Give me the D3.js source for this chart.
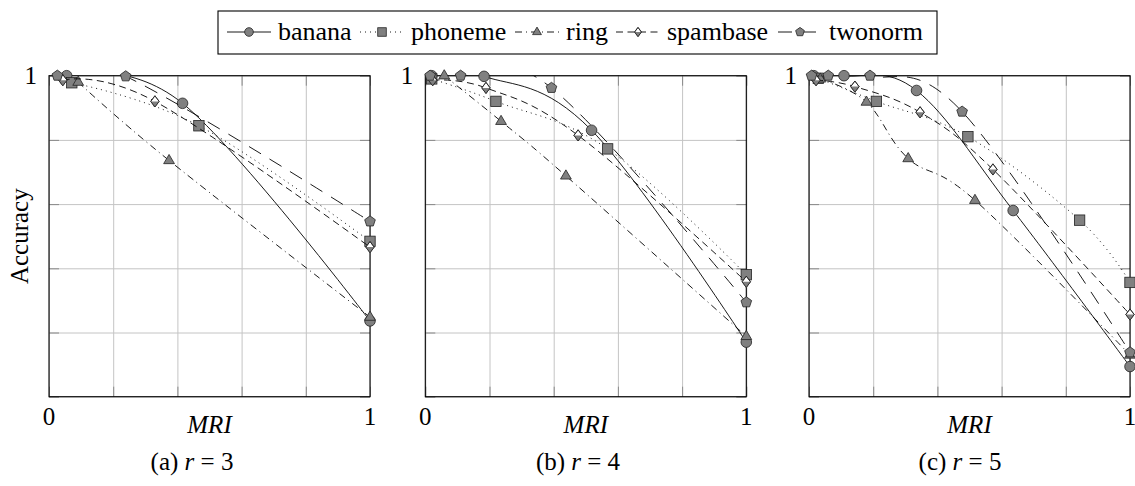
<!DOCTYPE html>
<html>
<head>
<meta charset="utf-8">
<script src="https://cdn.jsdelivr.net/npm/d3@7"></script>
<style>
  body { margin: 0; background: #fff; }
</style>
</head>
<body>
<svg id="chart" width="1135" height="486"></svg>
<script>
const datasets = ["banana", "phoneme", "ring", "spambase", "twonorm"]
const panelTags = ["(a)", "(b)", "(c)"]
const rValues = ["3", "4", "5"]
const xTickLabels = ["0", "1"]
const yTickLabels = ["1"]
const xLabel = "MRI"
const yLabel = "Accuracy"

// r = 3  ([MRI, accuracy])
const banana3 = [[0.055, 1], [0.416, 0.957], [1, 0.618]]
const phoneme3 = [[0.071, 0.989], [0.467, 0.922], [1, 0.742]]
const ring3 = [[0.091, 0.990], [0.374, 0.868], [1, 0.624]]
const spambase3 = [[0.043, 0.993], [0.330, 0.960], [1, 0.733]]
const twonorm3 = [[0.026, 1], [0.239, 0.999], [1, 0.773]]

// r = 4
const banana4 = [[0.02, 1], [0.183, 0.999], [0.518, 0.915], [1, 0.585]]
const phoneme4 = [[0.02, 0.995], [0.220, 0.960], [0.568, 0.886], [1, 0.690]]
const ring4 = [[0.059, 1], [0.236, 0.929], [0.438, 0.844], [1, 0.594]]
const spambase4 = [[0.023, 0.993], [0.189, 0.981], [0.476, 0.907], [1, 0.679]]
const twonorm4 = [[0.015, 1], [0.11, 1], [0.393, 0.981], [1, 0.647]]

// r = 5
const banana5 = [[0.015, 1], [0.109, 1], [0.335, 0.977], [0.636, 0.790], [1, 0.547]]
const phoneme5 = [[0.029, 0.996], [0.210, 0.960], [0.495, 0.905], [0.843, 0.775], [1, 0.678]]
const ring5 = [[0.035, 0.995], [0.179, 0.959], [0.309, 0.871], [0.517, 0.806], [1, 0.565]]
const spambase5 = [[0.022, 0.993], [0.143, 0.983], [0.346, 0.943], [0.573, 0.854], [1, 0.628]]
const twonorm5 = [[0.008, 1], [0.06, 1], [0.19, 1], [0.477, 0.944], [1, 0.569]]

const panelData = [
  [banana3, phoneme3, ring3, spambase3, twonorm3],
  [banana4, phoneme4, ring4, spambase4, twonorm4],
  [banana5, phoneme5, ring5, spambase5, twonorm5]
]

const dashes = ["none", "1,4", "7,4,1,4", "7,4.5", "14,10"]

let
  panelLefts = [49, 425.3, 809],
  captionX = [192, 578, 960],
  plotTop = 75.7,
  size = 321,
  fontSize = 25,
  serif = '"Liberation Serif", "Times New Roman", Times, "DejaVu Serif", serif'

var svg = d3.select("#chart")

function label(parent, x, y, str, size) {
  return parent.append("text").attr("x", x).attr("y", y)
    .style("font-family", serif).style("font-size", size + "px")
    .attr("fill", "#000").text(str)
}

function marker(g, kind, s) {
  var grey = "#808080"
  var m = g.append("g")
  if (kind == "banana") {
    m.append("circle").attr("r", 5.3 * s).attr("fill", grey)
  } else if (kind == "phoneme") {
    m.append("rect").attr("x", -5.2 * s).attr("y", -5.2 * s)
      .attr("width", 10.4 * s).attr("height", 10.4 * s).attr("fill", grey)
  } else if (kind == "ring") {
    m.append("path").attr("d", `M0,${-6 * s}L${5.4 * s},${3.2 * s}L${-5.4 * s},${3.2 * s}Z`).attr("fill", grey)
  } else if (kind == "spambase") {
    m.append("path").attr("d", `M0,${-5.6 * s}L${4.2 * s},0L0,${5.6 * s}L${-4.2 * s},0Z`).attr("fill", "#fff")
    m.append("path").attr("d", `M${-4.2 * s},0L${4.2 * s},0L0,${5.6 * s}Z`).attr("fill", grey).attr("stroke", "none")
    m.append("path").attr("d", `M0,${-5.6 * s}L${4.2 * s},0L0,${5.6 * s}L${-4.2 * s},0Z`).attr("fill", "none")
  } else {
    var pts = d3.range(5).map(i => {
      var a = -Math.PI / 2 + i * 2 * Math.PI / 5
      return [5.6 * s * Math.cos(a), 5.6 * s * Math.sin(a)]
    })
    m.append("path").attr("d", "M" + pts.join("L") + "Z").attr("fill", grey)
  }
  m.selectAll("*").filter(function() { return this.getAttribute("stroke") != "none" })
    .attr("stroke", "#222").attr("stroke-width", 0.8)
  return m
}

panelData.forEach((series, p) => {
  var left = panelLefts[p]
  var x = d3.scaleLinear().domain([0, 1]).range([left, left + size])
  var y = d3.scaleLinear().domain([0.5, 1]).range([plotTop + size, plotTop])
  var g = svg.append("g")

  g.append("clipPath").attr("id", "clip" + p)
    .append("rect").attr("x", left).attr("y", plotTop).attr("width", size).attr("height", size)

  var xGrid = d3.range(0, 1.0001, 0.2)
  var yGrid = d3.range(0.5, 1.0001, 0.1)

  g.append("g").attr("transform", `translate(0,${plotTop + size})`)
    .call(d3.axisBottom(x).tickValues(xGrid).tickSize(-size).tickFormat(""))
    .call(a => a.select(".domain").remove())
    .call(a => a.selectAll("line").attr("stroke", "#c4c4c4").attr("stroke-width", 1))
  g.append("g").attr("transform", `translate(${left},0)`)
    .call(d3.axisLeft(y).tickValues(yGrid).tickSize(-size).tickFormat(""))
    .call(a => a.select(".domain").remove())
    .call(a => a.selectAll("line").attr("stroke", "#c4c4c4").attr("stroke-width", 1))

  // short inner ticks on all four sides
  var tickAxes = [
    [d3.axisBottom(x).tickValues(xGrid), `translate(0,${plotTop + size})`],
    [d3.axisTop(x).tickValues(xGrid), `translate(0,${plotTop})`],
    [d3.axisLeft(y).tickValues(yGrid), `translate(${left},0)`],
    [d3.axisRight(y).tickValues(yGrid), `translate(${left + size},0)`]
  ]
  tickAxes.forEach(([ax, tr]) => {
    g.append("g").attr("transform", tr)
      .call(ax.tickSize(-10).tickFormat(""))
      .call(a => a.select(".domain").remove())
      .call(a => a.selectAll("line").attr("stroke", "#8a8a8a").attr("stroke-width", 1))
  })

  g.append("rect").attr("x", left).attr("y", plotTop).attr("width", size).attr("height", size)
    .attr("fill", "none").attr("stroke", "#000").attr("stroke-width", 1.1)

  var line = d3.line().x(d => x(d[0])).y(d => y(d[1])).curve(d3.curveCardinal.tension(-0.1))

  series.forEach((pts, i) => {
    g.append("path").datum(pts).attr("d", line)
      .attr("clip-path", `url(#clip${p})`)
      .attr("fill", "none").attr("stroke", "#000").attr("stroke-width", 0.9)
      .attr("stroke-dasharray", dashes[i])
    pts.forEach(d => {
      marker(g, datasets[i], 1).attr("transform", `translate(${x(d[0])},${y(d[1])})`)
    })
  })

  label(g, left - 12, y(1) + 8.5, yTickLabels[0], fontSize).attr("text-anchor", "end")
  xTickLabels.forEach((t, i) => {
    label(g, x(i), 425, t, fontSize).attr("text-anchor", "middle")
  })
  label(g, left + size / 2, 433, xLabel, fontSize)
    .attr("text-anchor", "middle").style("font-style", "italic")

  var cap = label(g, captionX[p], 470, null, fontSize).attr("text-anchor", "middle")
  cap.append("tspan").text(panelTags[p] + " ")
  cap.append("tspan").style("font-style", "italic").text("r")
  cap.append("tspan").text(" = " + rValues[p])
})

label(svg, 0, 0, yLabel, fontSize)
  .attr("transform", `translate(28,${plotTop + size / 2}) rotate(-90)`)
  .attr("text-anchor", "middle")

// legend
let
  legendX = [249, 382, 537, 638, 800],
  legendY = 32

svg.append("rect").attr("x", 218).attr("y", 11).attr("width", 719).attr("height", 43)
  .attr("fill", "#fff").attr("stroke", "#000").attr("stroke-width", 1.1)

datasets.forEach((name, i) => {
  var cx = legendX[i]
  svg.append("line").attr("x1", cx - 22).attr("x2", cx + 22)
    .attr("y1", legendY).attr("y2", legendY)
    .attr("stroke", "#000").attr("stroke-width", 0.9).attr("stroke-dasharray", dashes[i])
  marker(svg, name, 0.82).attr("transform", `translate(${cx},${legendY})`)
  label(svg, cx + 29, 39.5, name, 26)
})
</script>
</body>
</html>
